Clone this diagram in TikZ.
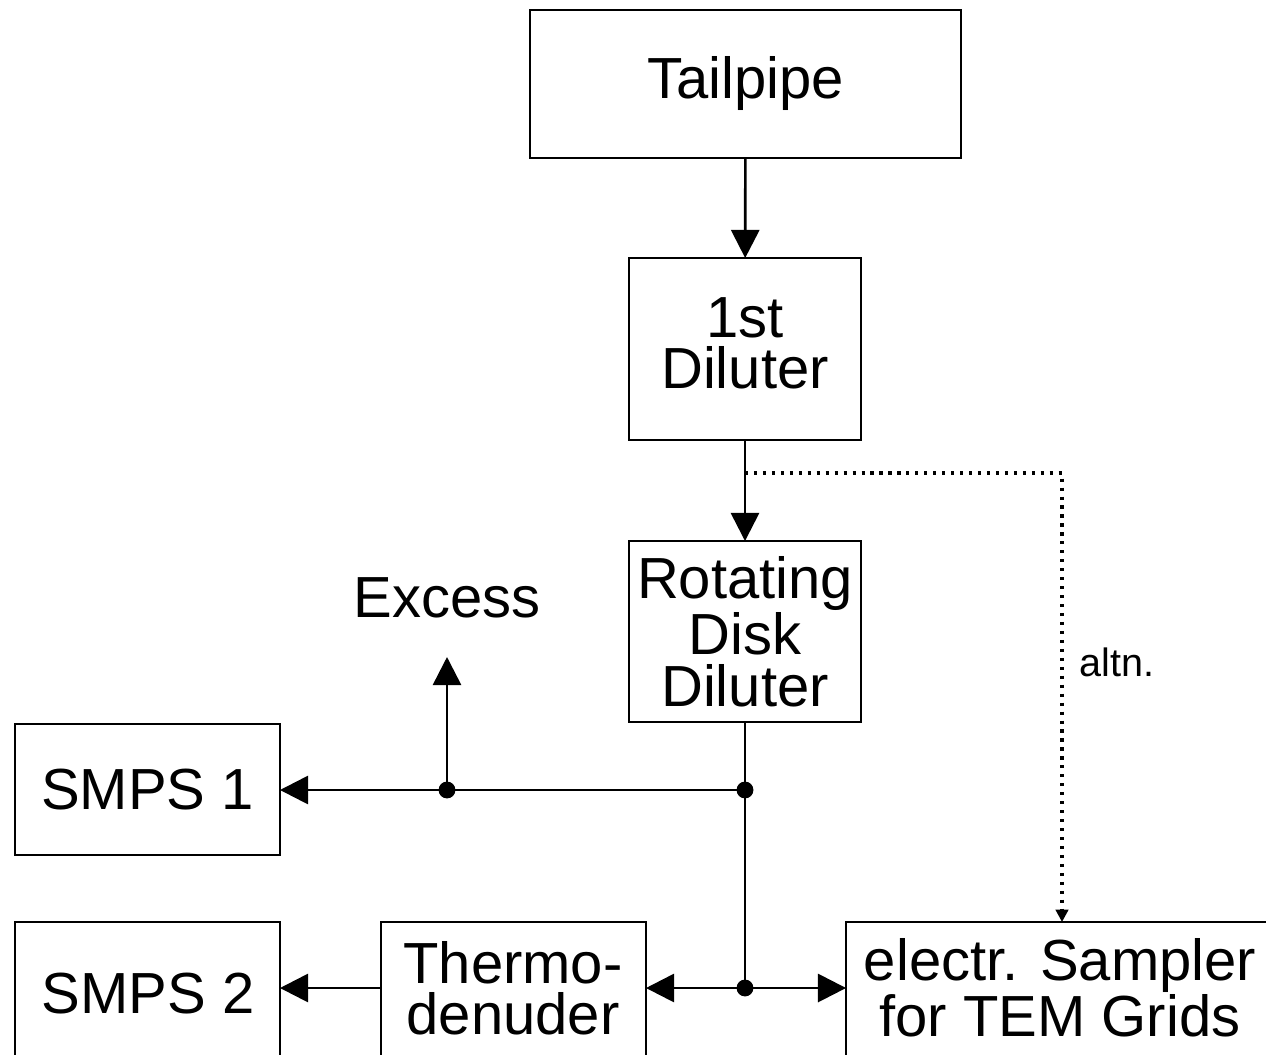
\documentclass[tikz,border=0pt]{standalone}
\usepackage{fontspec}
\setmainfont{Liberation Sans}
\usetikzlibrary{arrows.meta}
\tikzset{
  box/.style={draw, line width=1.4pt, inner sep=0pt, outer sep=0pt, align=center,
    font=\fontsize{33pt}{29.5pt}\selectfont},
  txt/.style={inner sep=0pt, align=center, font=\fontsize{33pt}{29pt}\selectfont},
  conn/.style={line width=1.5pt},
  arr/.style={line width=1.5pt, -{Triangle[length=16pt,width=16pt]}},
  altline/.style={line width=1.8pt, dash pattern=on 1.8pt off 3.3pt, -{Triangle[length=7pt,width=7pt]}},
  jdot/.style={fill=black},
}
\begin{document}
\begin{tikzpicture}[x=0.02cm,y=-0.02cm]
\clip (0,0) rectangle (1266,1054);
\fill[white] (0,0) rectangle (1266,1054);
% boxes
\node[box, minimum width=8.62cm, minimum height=2.96cm] (tail) at (745.5,84) {Tailpipe};
\node[box, minimum width=4.64cm, minimum height=3.64cm] (dil1) at (745,349) {};
\node[box, minimum width=4.64cm, minimum height=3.62cm] (rdd) at (745,631.5) {Rotating\\Disk\\Diluter};
\node[box, minimum width=5.30cm, minimum height=2.62cm] (smps1) at (147.5,789.5) {SMPS 1};
\node[box, minimum width=5.30cm, minimum height=3.56cm] (smps2) at (147.5,1011) {};
\node[box, minimum width=5.30cm, minimum height=3.56cm] (thermo) at (513.5,1011) {};
\node[box, minimum width=9.08cm, minimum height=3.56cm] (elec) at (1073,1011) {};
% texts
\node[txt] (dil1t) at (745,343) {1st\\Diluter};
\node[txt] (smps2t) at (148,994) {SMPS 2};
\node[txt] (thermot) at (513,988) {Thermo-\\denuder};
\node[txt] (elect) at (1060,988) {electr. Sampler\\for TEM Grids};
\node[txt] (excess) at (447,598) {Excess};
\node[inner sep=0pt, font=\fontsize{22.5pt}{26pt}\selectfont] (altn) at (1117,662) {altn.};
% coordinates
\coordinate (j1) at (745,790);
\coordinate (j2) at (447,790);
\coordinate (j3) at (745,988);
\coordinate (exc) at (447,657);
\coordinate (d0) at (745,473);
\coordinate (dend) at (1062,922);
% connectors
\draw[arr] (tail) -- (dil1);
\draw[arr] (dil1) -- (rdd);
\draw[altline] (d0) -| (dend);
\draw[conn] (rdd) -- (j1) -- (j3);
\draw[arr] (j1) -- (j1 -| smps1.east);
\draw[arr] (j2) -- (exc);
\draw[arr] (j3) -- (j3 -| thermo.east);
\draw[arr] (j3) -- (j3 -| elec.west);
\draw[arr] (j3 -| thermo.west) -- (j3 -| smps2.east);
% junction dots
\fill[jdot] (j1) circle (4.8pt);
\fill[jdot] (j2) circle (4.8pt);
\fill[jdot] (j3) circle (4.8pt);
\end{tikzpicture}
\end{document}
